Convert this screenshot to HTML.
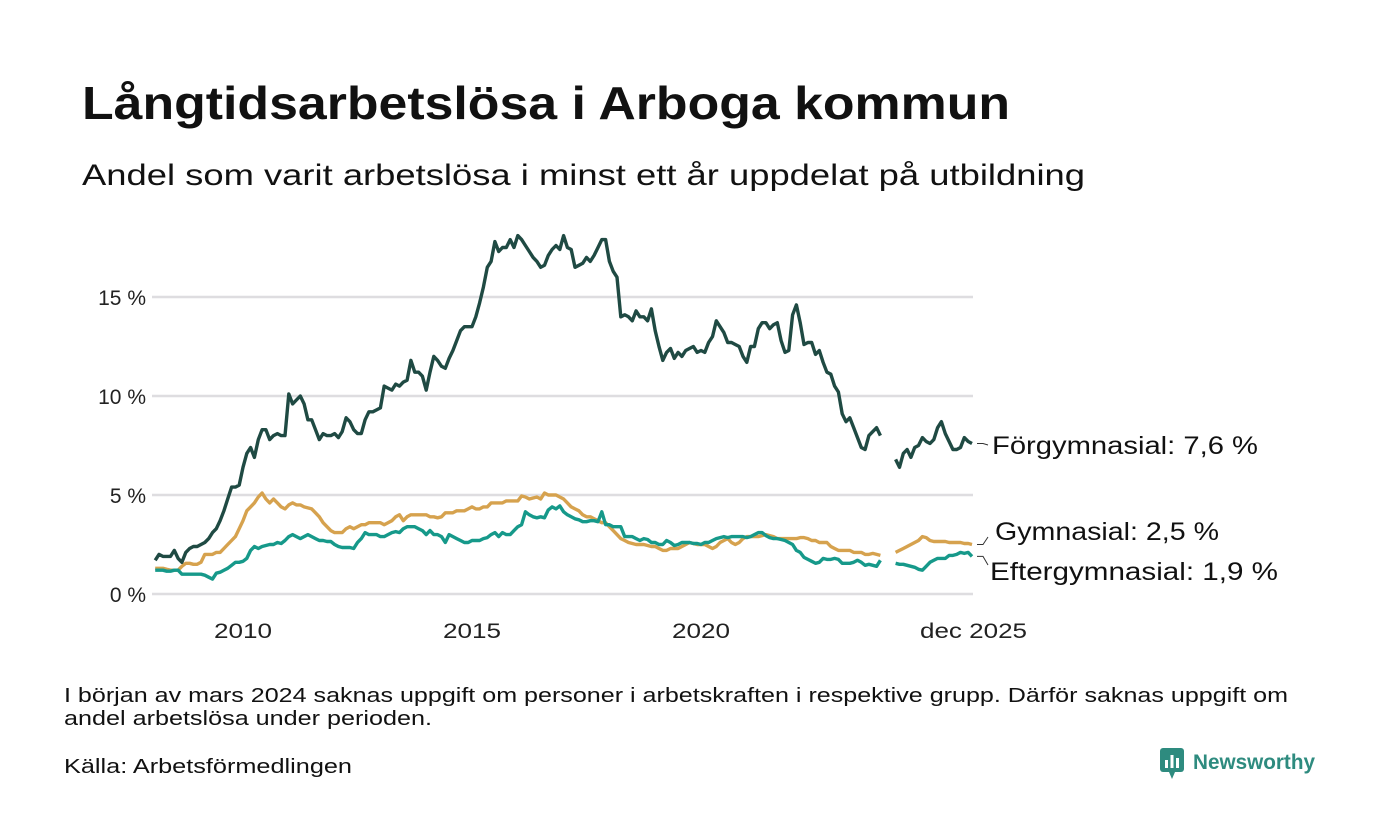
<!DOCTYPE html>
<html><head><meta charset="utf-8">
<style>
body{margin:0;background:#fff;width:1400px;height:840px;overflow:hidden;font-family:"Liberation Sans",sans-serif;color:#111}
svg{position:absolute;left:0;top:0}
text{font-family:"Liberation Sans",sans-serif}
</style></head><body>
<svg id="chart" width="1400" height="840">
<text x="82" y="119" font-size="46" font-weight="bold" fill="#111" textLength="928" lengthAdjust="spacingAndGlyphs">Långtidsarbetslösa i Arboga kommun</text>
<text x="82" y="185" font-size="30" fill="#111" textLength="1003" lengthAdjust="spacingAndGlyphs">Andel som varit arbetslösa i minst ett år uppdelat på utbildning</text>
<text x="64" y="702" font-size="20" fill="#111" textLength="1224" lengthAdjust="spacingAndGlyphs">I början av mars 2024 saknas uppgift om personer i arbetskraften i respektive grupp. Därför saknas uppgift om</text>
<text x="64" y="725" font-size="20" fill="#111" textLength="368" lengthAdjust="spacingAndGlyphs">andel arbetslösa under perioden.</text>
<text x="64" y="773" font-size="20" fill="#111" textLength="288" lengthAdjust="spacingAndGlyphs">Källa: Arbetsförmedlingen</text>
<g>
<rect x="1160" y="748" width="24" height="24" rx="3" fill="#2e8b7f"/><polygon points="1169,772 1175,772 1172,779" fill="#2e8b7f"/>
<rect x="1165" y="760" width="3" height="8" fill="#fff"/><rect x="1170.5" y="755" width="3" height="13" fill="#fff"/><rect x="1176" y="758" width="3" height="10" fill="#fff"/>
<text x="1193" y="769" font-size="21" font-weight="bold" fill="#2e8b7f" textLength="122" lengthAdjust="spacingAndGlyphs">Newsworthy</text>
</g>
</svg>
<script>
const startYear = 2008, startMonth = 2;
const yTicks = [0,5,10,15];
const yTickLabels = ["0 %","5 %","10 %","15 %"];
const xTicks = [2010,2015,2020];
const xTickLabels = ["2010","2015","2020"];
const forgymnasial = [1.7,2.0,1.9,1.9,1.9,2.2,1.8,1.6,2.1,2.3,2.4,
2.4,2.5,2.6,2.8,3.1,3.3,3.7,4.2,4.8,5.4,5.4,5.5,
6.4,7.1,7.4,6.9,7.8,8.3,8.3,7.8,8.0,8.1,8.0,8.0,
10.1,9.6,9.8,10.0,9.6,8.8,8.8,8.3,7.8,8.1,8.0,8.0,
8.1,7.9,8.2,8.9,8.7,8.3,8.1,8.1,8.8,9.2,9.2,9.3,
9.4,10.5,10.4,10.3,10.6,10.5,10.7,10.8,11.8,11.2,11.2,11.0,
10.3,11.2,12.0,11.8,11.5,11.4,11.9,12.3,12.8,13.3,13.5,13.5,
13.5,14.0,14.7,15.5,16.5,16.8,17.8,17.3,17.5,17.5,17.9,17.5,
18.1,17.9,17.6,17.3,17.0,16.8,16.5,16.6,17.1,17.4,17.6,17.4,
18.1,17.5,17.4,16.5,16.6,16.7,17.0,16.8,17.1,17.5,17.9,17.9,
16.8,16.3,16.0,14.0,14.1,14.0,13.8,14.3,14.0,14.0,13.8,14.4,
13.3,12.5,11.8,12.2,12.4,11.9,12.2,12.0,12.3,12.4,12.5,12.2,
12.3,12.2,12.7,13.0,13.8,13.5,13.2,12.7,12.7,12.6,12.5,12.0,
11.7,12.5,12.5,13.4,13.7,13.7,13.4,13.6,13.7,12.8,12.2,12.3,
14.1,14.6,13.7,12.6,12.7,12.7,12.1,12.3,11.7,11.2,11.1,10.5,
10.2,9.1,8.7,8.9,8.4,7.9,7.4,7.3,8.0,8.2,8.4,8.0,
null,null,null,6.8,6.4,7.1,7.3,6.9,7.4,7.5,7.9,7.7,
7.6,7.8,8.4,8.7,8.1,7.7,7.3,7.3,7.4,7.9,7.7,7.6];
const gymnasial = [1.3,1.3,1.3,1.25,1.2,1.2,1.2,1.4,1.55,1.55,1.5,
1.5,1.6,2.0,2.0,2.0,2.1,2.1,2.3,2.5,2.7,2.9,3.3,
3.7,4.2,4.4,4.6,4.9,5.1,4.8,4.6,4.8,4.6,4.4,4.3,
4.5,4.6,4.5,4.5,4.4,4.35,4.3,4.1,3.9,3.6,3.4,3.2,
3.1,3.1,3.1,3.3,3.4,3.3,3.4,3.5,3.5,3.6,3.6,3.6,
3.6,3.5,3.6,3.7,3.9,4.0,3.7,3.9,4.0,4.0,4.0,4.0,
4.0,3.9,3.9,3.85,3.9,4.1,4.1,4.1,4.2,4.2,4.2,4.3,
4.4,4.3,4.3,4.4,4.4,4.6,4.6,4.6,4.6,4.7,4.7,4.7,
4.7,4.95,4.9,4.8,4.85,4.9,4.8,5.1,5.0,5.0,5.0,4.9,
4.8,4.6,4.4,4.3,4.2,4.0,3.9,3.9,3.8,3.7,3.6,3.6,
3.4,3.2,3.0,2.8,2.7,2.6,2.55,2.5,2.5,2.5,2.45,2.4,
2.4,2.3,2.2,2.2,2.3,2.3,2.3,2.4,2.5,2.6,2.55,2.5,
2.5,2.5,2.4,2.3,2.4,2.6,2.7,2.8,2.6,2.5,2.6,2.8,
2.9,2.9,2.9,2.9,2.95,3.0,2.95,2.9,2.8,2.8,2.8,2.8,
2.8,2.8,2.85,2.85,2.8,2.7,2.7,2.6,2.6,2.6,2.4,2.3,
2.2,2.2,2.2,2.2,2.1,2.1,2.1,2.0,2.0,2.05,2.0,1.95,
null,null,null,2.1,2.2,2.3,2.4,2.5,2.6,2.7,2.9,2.85,
2.7,2.65,2.65,2.65,2.65,2.6,2.6,2.6,2.6,2.55,2.55,2.5];
const eftergymnasial = [1.2,1.2,1.2,1.15,1.15,1.2,1.2,1.0,1.0,1.0,1.0,
1.0,1.0,0.95,0.85,0.75,1.05,1.1,1.2,1.3,1.45,1.6,1.6,
1.65,1.8,2.2,2.4,2.3,2.4,2.45,2.5,2.5,2.6,2.55,2.7,
2.9,3.0,2.9,2.8,2.9,3.0,2.9,2.8,2.7,2.7,2.65,2.65,
2.5,2.4,2.35,2.35,2.35,2.3,2.6,2.8,3.1,3.0,3.0,3.0,
2.9,2.9,3.0,3.1,3.15,3.1,3.3,3.4,3.4,3.4,3.3,3.2,
3.0,3.2,3.0,3.0,2.9,2.6,3.0,2.9,2.8,2.7,2.6,2.6,
2.7,2.7,2.7,2.8,2.85,3.0,3.1,2.9,3.1,3.0,3.0,3.2,
3.4,3.5,4.15,4.0,3.9,3.85,3.9,3.85,4.25,4.4,4.3,4.45,
4.15,4.0,3.9,3.8,3.75,3.65,3.65,3.7,3.7,3.65,4.15,3.5,
3.5,3.4,3.4,3.4,2.9,2.9,2.9,2.8,2.7,2.8,2.75,2.6,
2.6,2.5,2.5,2.7,2.6,2.45,2.5,2.6,2.6,2.6,2.55,2.55,
2.5,2.6,2.6,2.7,2.8,2.85,2.9,2.85,2.9,2.9,2.9,2.9,
2.85,2.9,3.0,3.1,3.1,2.95,2.85,2.8,2.8,2.75,2.7,2.6,
2.5,2.2,2.1,1.85,1.75,1.65,1.55,1.6,1.8,1.75,1.75,1.8,
1.75,1.55,1.55,1.55,1.6,1.7,1.6,1.45,1.5,1.45,1.4,1.7,
null,null,null,1.55,1.5,1.5,1.45,1.4,1.35,1.25,1.2,1.4,
1.6,1.7,1.8,1.8,1.8,1.95,1.95,2.0,2.1,2.05,2.1,1.9];
const seriesNames = ["Förgymnasial","Gymnasial","Eftergymnasial"];
const endLabels = ["Förgymnasial: 7,6 %","Gymnasial: 2,5 %","Eftergymnasial: 1,9 %"];

const NS="http://www.w3.org/2000/svg";
const svg=document.getElementById('chart');
const xS=d=>243+(d-2010)*45.8;
const yS=v=>594-v*19.8;
const dateOf=i=>startYear+(startMonth-1+i)/12;
function mk(tag,attrs){const e=document.createElementNS(NS,tag);for(const k in attrs)e.setAttribute(k,attrs[k]);svg.appendChild(e);return e;}

yTicks.forEach((t,i)=>{
  const g=mk('line',{x1:152,x2:973,y1:yS(t),y2:yS(t),stroke:'#dedde0','stroke-width':2.5});
  
  
  const l=mk('text',{x:146,y:yS(t)+8,'text-anchor':'end','font-size':21,fill:'#222'});
  l.textContent=yTickLabels[i];
  
  
});
xTicks.forEach((t,i)=>{
  const l=mk('text',{x:xS(t),y:638,'text-anchor':'middle','font-size':21,fill:'#222',textLength:58,lengthAdjust:'spacingAndGlyphs'});
  l.textContent=xTickLabels[i];
  
  
});
{const l=mk('text',{x:920,y:638,'font-size':21,fill:'#222',textLength:107,lengthAdjust:'spacingAndGlyphs'});
l.textContent='dec 2025';

}

const allSeries=[forgymnasial,gymnasial,eftergymnasial];
const colors=['#1f4a43','#d6a24e','#16998a'];
[1,2,0].forEach(s=>{
  const data=allSeries[s];let d='';let pen=false;
  data.forEach((v,i)=>{
    if(v===null){pen=false;return;}
    d+=(pen?'L':'M')+xS(dateOf(i)).toFixed(1)+' '+yS(v).toFixed(1);pen=true;
  });
  const p=mk('path',{d:d,fill:'none',stroke:colors[s],'stroke-width':3.4,'stroke-linejoin':'round'});
  
  
});

const labelY=[445,531,571];
const labelX=[992,995,990];
const labelW=[266,224,288];
allSeries.forEach((data,s)=>{
  const last=data[data.length-1];
  const y0=yS(last);
  const ln=mk('path',{d:`M977 ${y0} L983 ${y0} L988 ${labelY[s]+(s===1?6:s===2?-6:0)}`,fill:'none',stroke:'#333','stroke-width':1});
  
  
  const t=mk('text',{x:labelX[s],y:labelY[s]+9,'font-size':25,fill:'#111',textLength:labelW[s],lengthAdjust:'spacingAndGlyphs'});
  t.textContent=endLabels[s];
  
  
});
</script>
</body></html>
